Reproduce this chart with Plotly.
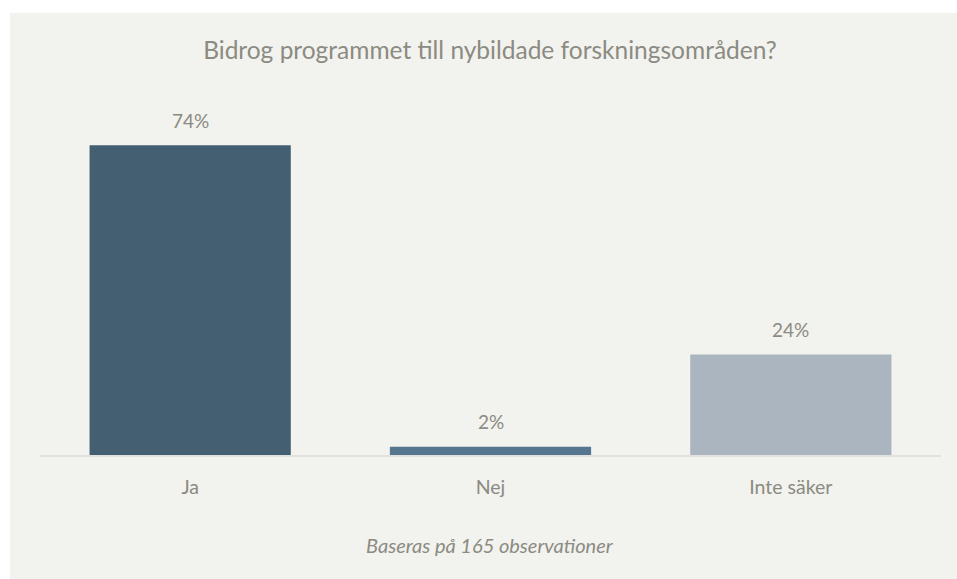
import plotly.graph_objects as go

categories = ["Ja", "Nej", "Inte säker"]
values = [74, 2, 24]
labels = ["74%", "2%", "24%"]
colors = ["#435f71", "#55768e", "#abb5c0"]

title_text = "Bidrog programmet till nybildade forskningsområden?"
footer_text = "Baseras på 165 observationer"

W, H = 957, 579
font_family = "Lato, 'Open Sans', sans-serif"
text_color = "#8b8b82"

fig = go.Figure(
    go.Bar(
        x=categories,
        y=values,
        marker=dict(color=colors, line=dict(width=0)),
        cliponaxis=False,
        hoverinfo="skip",
    )
)

plot_top = 120
plot_bottom = 455
left, right = 40, 941
pw = right - left
ph = plot_bottom - plot_top

annotations = [
    dict(text=lab, x=cat, y=val, xref="x", yref="y", yanchor="middle", xanchor="center",
         yshift=25, showarrow=False,
         font=dict(size=19, color=text_color, family=font_family))
    for cat, val, lab in zip(categories, values, labels)
]
annotations.append(
    dict(text=footer_text, xref="paper", yref="paper", x=(490 - left) / pw,
         y=-(545 - plot_bottom) / ph,
         xanchor="center", yanchor="middle", showarrow=False,
         font=dict(size=20, color=text_color, family=font_family, style="italic"))
)

fig.update_layout(
    width=W,
    height=H,
    paper_bgcolor="white",
    plot_bgcolor="rgba(0,0,0,0)",
    margin=dict(l=left, r=W - right, t=plot_top, b=H - plot_bottom, pad=0, autoexpand=False),
    bargap=0.33,
    showlegend=False,
    hovermode=False,
    title=dict(
        text=title_text,
        x=490 / W,
        xanchor="center",
        y=1 - 50 / H,
        yanchor="middle",
        font=dict(size=24.5, color=text_color, family=font_family),
    ),
    shapes=[
        dict(type="rect", xref="paper", yref="paper",
             x0=(10 - left) / pw, x1=(W + 5 - left) / pw,
             y0=-(H + 5 - plot_bottom) / ph, y1=(plot_bottom - 13) / ph,
             fillcolor="#f2f2ee", line=dict(width=0), layer="below"),
    ],
    annotations=annotations,
)

fig.update_xaxes(
    showgrid=False,
    showline=True,
    linecolor="#e1e1dd",
    linewidth=2,
    ticks="",
    tickfont=dict(size=19.5, color=text_color, family=font_family),
    ticklabelstandoff=14,
)
fig.update_yaxes(range=[0, 80], visible=False, showgrid=False, zeroline=False)

fig.write_html(
    "out.html",
    config={"displayModeBar": False, "staticPlot": True},
    post_script="document.body.style.margin='0';document.body.style.overflow='hidden';",
)
